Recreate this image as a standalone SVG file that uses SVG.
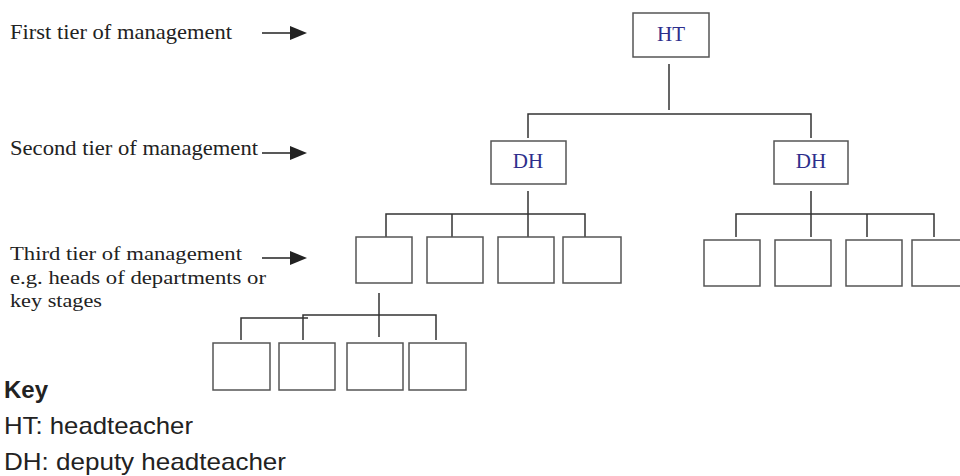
<svg xmlns="http://www.w3.org/2000/svg" width="960" height="476" viewBox="0 0 960 476">
<style>
.box{fill:#fff;stroke:#555;stroke-width:1.5}
.ln{stroke:#333;stroke-width:1.5;fill:none}
.node{font-family:"Liberation Serif","Times New Roman",serif;font-size:21px;fill:#2e2e8c;text-anchor:middle}
.lbl{font-family:"Liberation Serif","Times New Roman",serif;font-size:21px;fill:#222}
.sm{font-size:19.5px}
.key{font-family:"Liberation Sans",Arial,sans-serif;font-size:24px;fill:#222}
.tier{stroke:#222;stroke-width:1.5}
</style>
<defs>
<marker id="ah" viewBox="0 0 17 14" refX="0" refY="7" markerWidth="17" markerHeight="14" markerUnits="userSpaceOnUse" orient="auto">
<path d="M0,0 L17,7 L0,14 z" fill="#222"/>
</marker>
</defs>
<rect width="960" height="476" fill="#fff"/>
<g id="labels">
<text class="lbl" x="10" y="39" textLength="222" lengthAdjust="spacingAndGlyphs">First tier of management</text>
<text class="lbl" x="10" y="155" textLength="248" lengthAdjust="spacingAndGlyphs">Second tier of management</text>
<text class="lbl sm" x="10" y="260" textLength="232" lengthAdjust="spacingAndGlyphs">Third tier of management</text>
<text class="lbl sm" x="10" y="284" textLength="256" lengthAdjust="spacingAndGlyphs">e.g. heads of departments or</text>
<text class="lbl sm" x="10" y="307" textLength="92" lengthAdjust="spacingAndGlyphs">key stages</text>
<line class="tier" x1="262" y1="33" x2="290" y2="33" marker-end="url(#ah)"/>
<line class="tier" x1="262" y1="153" x2="290" y2="153" marker-end="url(#ah)"/>
<line class="tier" x1="262" y1="258" x2="290" y2="258" marker-end="url(#ah)"/>
</g>
<g id="connectors">
<path class="ln" d="M669,64 V110 M528,138 V114 H811 V138"/>
<path class="ln" d="M528,191 V237 M386,237 V214 H585 V237 M452,214 V237"/>
<path class="ln" d="M811,191 V237 M736,237 V214 H934 V237 M867,214 V237"/>
<path class="ln" d="M379,293 V337 M303,340 V315 H436 V340 M241,340 V318 H308"/>
</g>
<g id="ht"><rect class="box" x="633" y="13" width="76" height="44"/><text class="node" x="671" y="41">HT</text></g>
<g id="dh1"><rect class="box" x="491" y="141" width="75" height="43"/><text class="node" x="528" y="168">DH</text></g>
<g id="dh2"><rect class="box" x="774" y="141" width="74" height="43"/><text class="node" x="811" y="168">DH</text></g>
<g id="l1"><rect class="box" x="356" y="237" width="56" height="46"/></g>
<g id="l2"><rect class="box" x="427" y="237" width="56" height="46"/></g>
<g id="l3"><rect class="box" x="498" y="237" width="56" height="46"/></g>
<g id="l4"><rect class="box" x="563" y="237" width="58" height="46"/></g>
<g id="r1"><rect class="box" x="704" y="240" width="56" height="46"/></g>
<g id="r2"><rect class="box" x="775" y="240" width="56" height="46"/></g>
<g id="r3"><rect class="box" x="846" y="240" width="56" height="46"/></g>
<g id="r4"><rect class="box" x="912" y="240" width="56" height="46"/></g>
<g id="b1"><rect class="box" x="213" y="343" width="57" height="47"/></g>
<g id="b2"><rect class="box" x="279" y="343" width="56" height="47"/></g>
<g id="b3"><rect class="box" x="347" y="343" width="56" height="47"/></g>
<g id="b4"><rect class="box" x="409" y="343" width="57" height="47"/></g>
<g id="key">
<text class="key" x="4" y="398" font-weight="bold">Key</text>
<text class="key" x="4" y="434" textLength="189" lengthAdjust="spacingAndGlyphs">HT: headteacher</text>
<text class="key" x="4" y="470" textLength="282" lengthAdjust="spacingAndGlyphs">DH: deputy headteacher</text>
</g>
</svg>
